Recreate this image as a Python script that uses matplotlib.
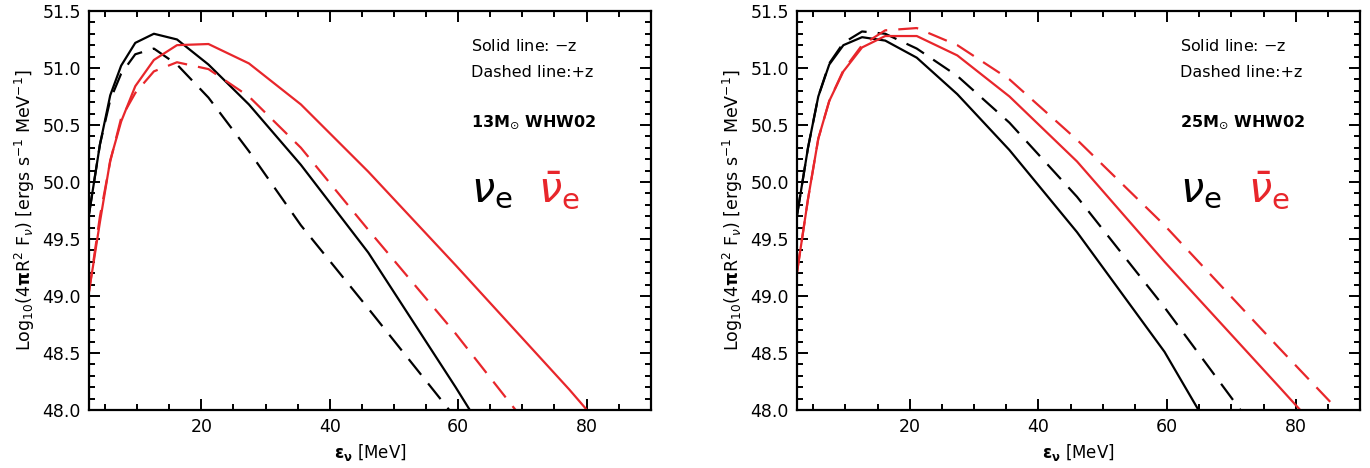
import matplotlib
matplotlib.use("Agg")
import matplotlib.pyplot as plt
from matplotlib.ticker import MultipleLocator, FormatStrFormatter

# neutrino energy grid (MeV)
energy = [2.5, 4.2, 5.8, 7.5, 9.7, 12.6, 16.2, 21.1, 27.4, 35.5, 46.0, 59.6, 77.3, 100.0]

# 13 Msun WHW02
nue_minus_13 = [49.72, 50.33, 50.76, 51.02, 51.22, 51.30, 51.25, 51.03, 50.68, 50.15, 49.38, 48.20, 46.6, 44.5]
nue_plus_13 = [49.72, 50.33, 50.72, 50.95, 51.12, 51.17, 51.03, 50.74, 50.27, 49.62, 48.89, 47.93, 46.5, 44.5]
nuebar_minus_13 = [49.04, 49.65, 50.19, 50.53, 50.84, 51.07, 51.20, 51.21, 51.04, 50.68, 50.09, 49.27, 48.18, 46.7]
nuebar_plus_13 = [49.04, 49.70, 50.18, 50.56, 50.78, 50.97, 51.05, 50.99, 50.75, 50.30, 49.58, 48.67, 47.4, 45.8]

# 25 Msun WHW02
nue_minus_25 = [49.71, 50.30, 50.75, 51.03, 51.20, 51.27, 51.24, 51.09, 50.77, 50.28, 49.56, 48.51, 46.8, 44.8]
nue_plus_25 = [49.71, 50.30, 50.75, 51.04, 51.22, 51.32, 51.30, 51.17, 50.93, 50.52, 49.87, 48.90, 47.55, 46.0]
nuebar_minus_25 = [49.21, 49.85, 50.38, 50.71, 50.97, 51.18, 51.28, 51.28, 51.11, 50.75, 50.18, 49.30, 48.21, 46.8]
nuebar_plus_25 = [49.21, 49.85, 50.38, 50.71, 50.98, 51.20, 51.33, 51.35, 51.20, 50.90, 50.37, 49.62, 48.55, 47.2]

models = ["13M$_{\\odot}$ WHW02", "25M$_{\\odot}$ WHW02"]

RED = "#e8262b"
DASH = (9, 5)

fig = plt.figure(figsize=(13.7, 4.68), dpi=100)
ax1 = fig.add_axes([0.065, 0.124, 0.410, 0.8526])
ax2 = fig.add_axes([0.5818, 0.124, 0.411, 0.8526])

panels = [
    (ax1, nue_minus_13, nue_plus_13, nuebar_minus_13, nuebar_plus_13, models[0]),
    (ax2, nue_minus_25, nue_plus_25, nuebar_minus_25, nuebar_plus_25, models[1]),
]

for ax, nm, npl, bm, bp, label in panels:
    ax.plot(energy, nm, color="black", lw=1.6)
    ax.plot(energy, npl, color="black", lw=1.6, dashes=DASH)
    ax.plot(energy, bm, color=RED, lw=1.6)
    ax.plot(energy, bp, color=RED, lw=1.6, dashes=DASH)

    ax.set_xlim(2.5, 90)
    ax.set_ylim(48.0, 51.5)
    ax.xaxis.set_major_locator(MultipleLocator(20))
    ax.xaxis.set_minor_locator(MultipleLocator(5))
    ax.yaxis.set_major_locator(MultipleLocator(0.5))
    ax.yaxis.set_minor_locator(MultipleLocator(0.1))
    ax.yaxis.set_major_formatter(FormatStrFormatter("%.1f"))
    ax.tick_params(which="both", direction="in", top=True, right=True, width=1.4, labelsize=12.5)
    ax.tick_params(which="major", length=8, pad=6)
    ax.tick_params(which="minor", length=4)
    for s in ax.spines.values():
        s.set_linewidth(1.6)

    ax.set_xlabel(r"$\mathbf{\epsilon_{\nu}}$ [MeV]", fontsize=12)
    ax.set_ylabel(r"Log$_{10}$(4$\mathbf{\pi}$R$^2$ F$_{\nu}$) [ergs s$^{-1}$ MeV$^{-1}$]", fontsize=12.5)

    ax.text(0.68, 0.912, "Solid line: $-$z", transform=ax.transAxes, fontsize=11.5, va="center")
    ax.text(0.68, 0.847, "Dashed line:+z", transform=ax.transAxes, fontsize=11.5, va="center")
    ax.text(0.68, 0.722, label, transform=ax.transAxes, fontsize=11.5, va="center", fontweight="bold")
    ax.text(0.68, 0.55, r"$\nu_{\rm e}$", transform=ax.transAxes, fontsize=30, va="center", color="black")
    ax.text(0.80, 0.55, r"$\bar{\nu}_{\rm e}$", transform=ax.transAxes, fontsize=30, va="center", color=RED)

fig.savefig("out.png", dpi=100)
